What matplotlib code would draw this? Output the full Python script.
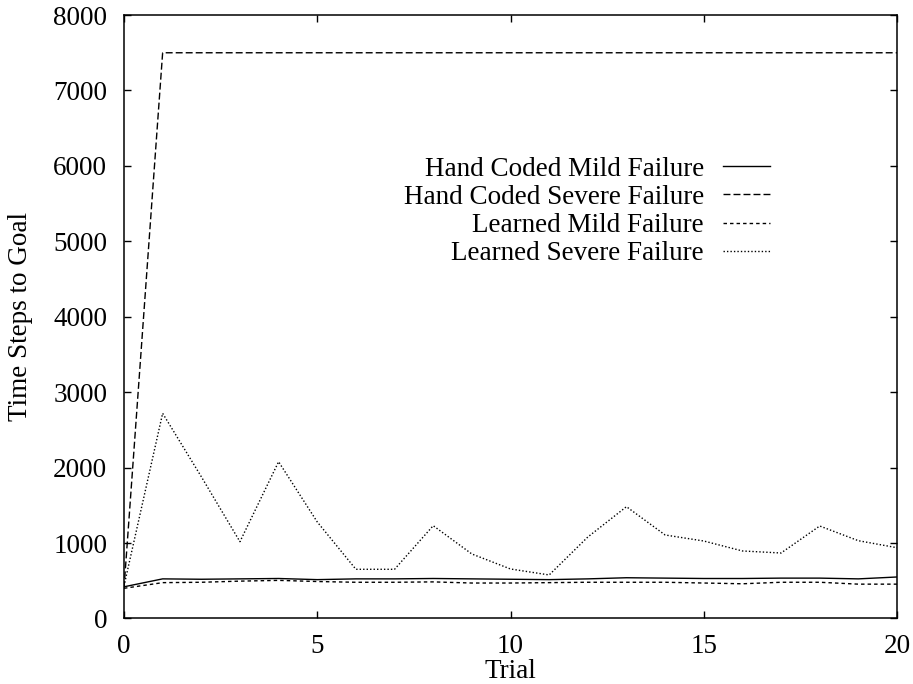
import matplotlib
matplotlib.use("Agg")
import matplotlib.pyplot as plt

trials = list(range(21))
hand_mild = [420, 525, 520, 525, 530, 515, 525, 525, 530, 525, 520, 515, 525, 540, 535, 530, 530, 535, 535, 525, 550]
hand_severe = [400] + [7500] * 20
learned_mild = [400, 475, 480, 495, 505, 490, 480, 480, 485, 470, 470, 475, 480, 480, 480, 470, 460, 480, 480, 455, 455]
learned_severe = [430, 2720, 1880, 1018, 2078, 1280, 652, 652, 1230, 855, 656, 577, 1080, 1482, 1107, 1027, 895, 868, 1226, 1031, 938]

labels = ["Hand Coded Mild Failure", "Hand Coded Severe Failure",
          "Learned Mild Failure", "Learned Severe Failure"]
x_ticks = [0, 5, 10, 15, 20]
y_ticks = list(range(0, 8001, 1000))

plt.rcParams['font.family'] = ['Liberation Serif', 'DejaVu Serif']
plt.rcParams['font.size'] = 19.5

fig = plt.figure(figsize=(9.13, 6.84), dpi=100)
ax = fig.add_axes([0.1358, 0.0958, 0.9825 - 0.1358, 0.978 - 0.0958])

lw = 1.0
ax.plot(trials, hand_mild, color='black', lw=lw, label=labels[0])
ax.plot(trials, hand_severe, color='black', lw=lw, dashes=(5, 2.2), label=labels[1])
ax.plot(trials, learned_mild, color='black', lw=lw, dashes=(2.5, 2.2), label=labels[2])
ax.plot(trials, learned_severe, color='black', lw=lw, dashes=(1, 1.5), label=labels[3])

ax.set_xlim(0, 20)
ax.set_ylim(0, 8000)
ax.set_xticks(x_ticks)
ax.set_yticks(y_ticks)
ax.tick_params(direction='in', top=True, right=True, length=5, width=1)
ax.tick_params(axis='x', pad=11)
ax.tick_params(axis='y', pad=12)
for s in ax.spines.values():
    s.set_linewidth(1.1)

ax.set_xlabel("Trial", labelpad=0)
ax.set_ylabel("Time Steps to Goal", labelpad=14.5)

ax.legend(loc='upper right', bbox_to_anchor=(0.836, 0.7655), markerfirst=False,
          frameon=False, handlelength=1.75, handletextpad=0.7, labelspacing=0.12,
          borderpad=0, borderaxespad=0, alignment='right')

fig.savefig("out.png", dpi=100)
